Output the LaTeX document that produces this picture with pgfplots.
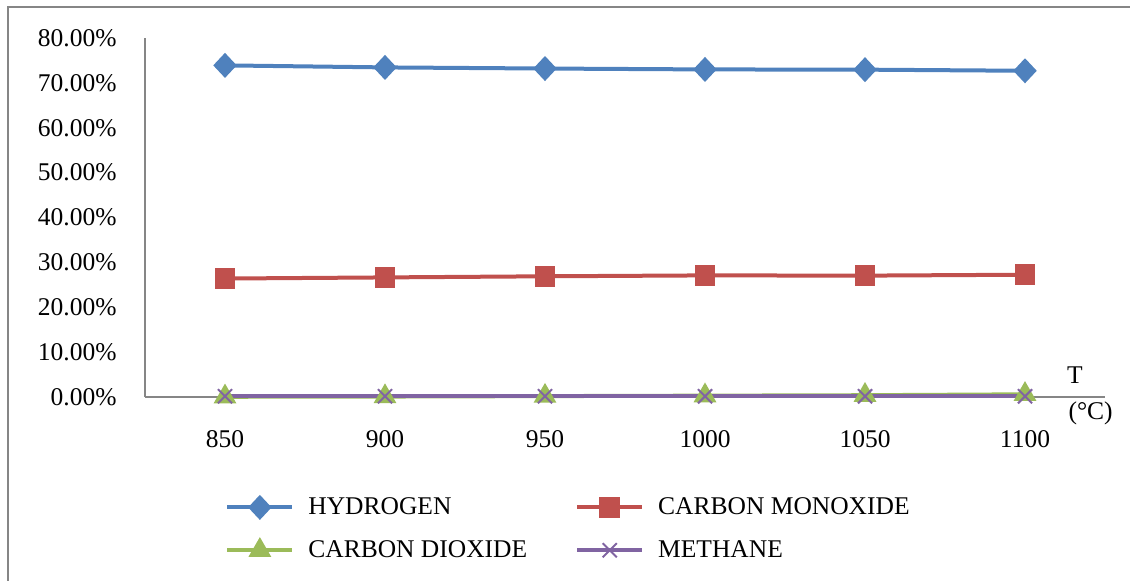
\documentclass[border=0pt]{standalone}
\usepackage{pgfplots}
\pgfplotsset{compat=1.18}
\usepackage{fontspec}
\setmainfont{Liberation Serif}
\definecolor{cH}{HTML}{4F81BD}
\definecolor{cCO}{HTML}{C0504D}
\definecolor{cCOt}{HTML}{9BBB59}
\definecolor{cCH}{HTML}{8064A2}
\definecolor{axgray}{HTML}{868686}
\begin{document}
\begin{tikzpicture}
\useasboundingbox (-72.5pt,-91.5pt) rectangle (492.5pt,198.5pt);
\draw[axgray, line width=1pt] (-68.5pt,-92pt) -- (-68.5pt,195pt) -- (493pt,195pt);
\begin{axis}[
  at={(0,0)}, anchor=south west,
  scale only axis, width=480pt, height=179.5pt,
  xmin=825, xmax=1125, ymin=0, ymax=80,
  clip=false,
  axis x line*=bottom, axis y line*=left,
  axis line style={axgray, line width=0.6pt, -},
  xtick={850,900,950,1000,1050,1100},
  xticklabels={850,900,950,1000,1050,1100},
  ytick={0,10,...,80},
  yticklabels={0.00\%,10.00\%,20.00\%,30.00\%,40.00\%,50.00\%,60.00\%,70.00\%,80.00\%},
  major tick length=0pt,
  tick label style={font=\fontsize{12.75pt}{15pt}\selectfont},
  yticklabel style={anchor=east, inner sep=0pt, xshift=-14pt},
  xticklabel style={anchor=north, inner sep=0pt, yshift=-16.5pt},
  every axis plot/.append style={line width=2pt},
  legend columns=2,
  legend cell align=left,
  legend style={at={(0.0833,-0.2676)}, anchor=north west, draw=none, fill=none,
    inner sep=0pt, font=\fontsize{12.75pt}{15pt}\selectfont,
    /tikz/every odd column/.append style={column sep=5pt},
    /tikz/every even column/.append style={column sep=22pt},
    row sep=7.5pt},
  legend image code/.code={\draw[#1, mark repeat=2, mark phase=2] plot coordinates {(0pt,0pt)(16.25pt,0pt)(32.5pt,0pt)};},
]
\addplot[cH, mark=diamond*, mark size=4.8pt, mark options={solid, xscale=1.25}] coordinates {
(850,73.9) (900,73.45) (950,73.2) (1000,73.0) (1050,72.95) (1100,72.7)};
\addlegendentry{HYDROGEN}
\addplot[cCO, mark=square*, mark size=4.2pt, mark options={solid}] coordinates {
(850,26.4) (900,26.65) (950,26.9) (1000,27.1) (1050,27.05) (1100,27.25)};
\addlegendentry{CARBON MONOXIDE}
\addplot[cCOt, mark=triangle*, mark size=4.6pt, mark options={solid}] coordinates {
(850,0.05) (900,0.1) (950,0.2) (1000,0.3) (1050,0.4) (1100,0.6)};
\addlegendentry{CARBON DIOXIDE}
\addplot[cCH, mark=x, mark size=5pt, mark options={solid, line width=1pt}] coordinates {
(850,0.15) (900,0.15) (950,0.15) (1000,0.15) (1050,0.15) (1100,0.15)};
\addlegendentry{METHANE}
\node[font=\fontsize{12.75pt}{15pt}\selectfont, inner sep=0pt] at (axis description cs:0.96875,0.0613) {T};
\node[font=\fontsize{12.75pt}{15pt}\selectfont, inner sep=0pt] at (axis description cs:0.985,-0.0446) {(°C)};
\end{axis}
\end{tikzpicture}
\end{document}
